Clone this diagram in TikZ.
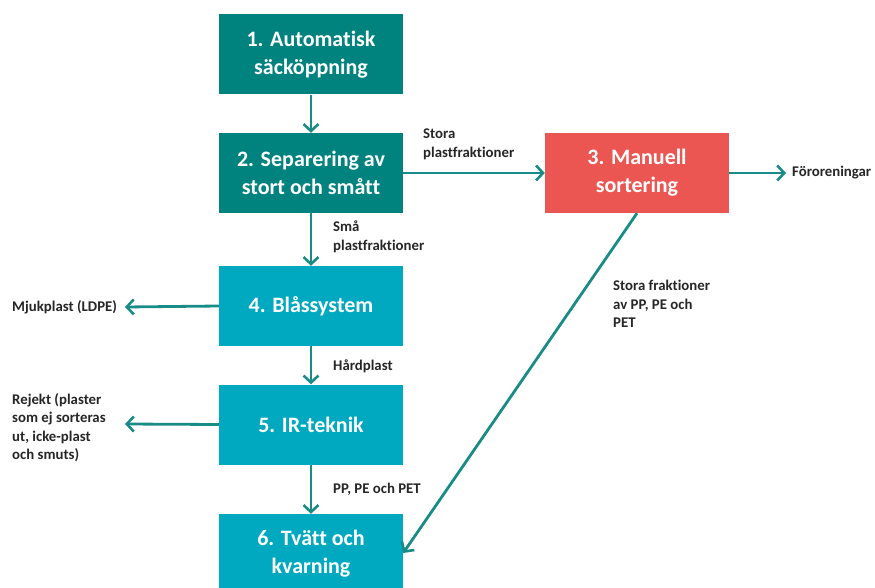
\documentclass[tikz,border=0pt]{standalone}
\usepackage{fontspec}
\setmainfont{Carlito}[Ligatures=NoCommon]
\usetikzlibrary{arrows.meta,positioning}
\definecolor{darkteal}{HTML}{00827F}
\definecolor{lightteal}{HTML}{00A8C0}
\definecolor{redbox}{HTML}{EB5652}
\definecolor{arrowc}{HTML}{1A8C87}
\tikzset{
  box/.style={minimum width=184pt,minimum height=80pt,inner sep=0pt,align=center,text=white,font=\bfseries\fontsize{22}{28}\selectfont},
  dbox/.style={box,fill=darkteal},
  lbox/.style={box,fill=lightteal},
  rbox/.style={box,fill=redbox},
  lab/.style={font=\bfseries\fontsize{14.8}{18.5}\selectfont,align=left,inner sep=0pt,text=black!85},
  conn/.style={draw=arrowc,line width=2.8pt,-{Straight Barb[length=7pt,width=15pt,line width=2.6pt]}}
}
\begin{document}
\begin{tikzpicture}[x=1pt,y=-1pt]
\useasboundingbox (0,0) rectangle (875,588);
\clip (0,0) rectangle (875,588);
\node[dbox] (b1) at (311,54.5) {1. Automatisk\\säcköppning};
\node[dbox] (b2) at (311,173) {2. Separering av\\stort och smått};
\node[rbox] (b3) at (637,173) {3. Manuell\\sortering};
\node[lbox] (b4) at (311,306) {4. Blåssystem};
\node[lbox] (b5) at (311,424.5) {5. IR-teknik};
\node[lbox] (b6) at (311,554) {6. Tvätt och\\kvarning};
\coordinate (mj) at (125,307);
\coordinate (rj) at (125,424);
\coordinate (fo) at (786,173);
\draw[conn] (b1) -- (b2);
\draw[conn] (b2) -- (b3);
\draw[conn] (b2) -- (b4);
\draw[conn] (b4) -- (b5);
\draw[conn] (b5) -- (b6);
\draw[conn] (b4.west) -- (mj);
\draw[conn] (b5.west) -- (rj);
\draw[conn] (b3.east) -- (fo);
\draw[conn] (b3.south) -- (b6.east |- 0,553);
\node[lab,anchor=south west] (l1) at (423,160) {Stora\\plastfraktioner};
\node[lab,anchor=north west] (l2) at (333,221) {Små\\plastfraktioner};
\node[lab,anchor=west] (l3) at (12,307) {Mjukplast (LDPE)};
\node[lab,anchor=west] (l4) at (333,366) {Hårdplast};
\node[lab,anchor=north west] (l5) at (12,393) {Rejekt (plaster\\som ej sorteras\\ut, icke-plast\\och smuts)};
\node[lab,anchor=west] (l6) at (333,489) {PP, PE och PET};
\node[lab,anchor=west] (l7) at (792,173) {Föroreningar};
\node[lab,anchor=north west] (l8) at (613,280) {Stora fraktioner\\av PP, PE och\\PET};
\end{tikzpicture}
\end{document}
